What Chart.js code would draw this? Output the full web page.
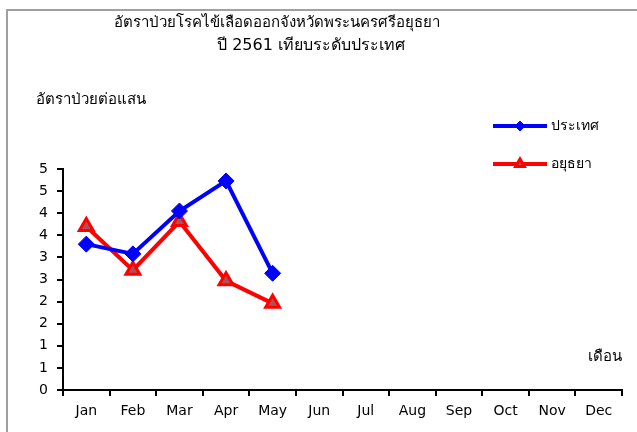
<!DOCTYPE html>
<html>
<head>
<meta charset="utf-8">
<script src="https://cdn.jsdelivr.net/npm/chart.js@4/dist/chart.umd.min.js"></script>
<style>
  html, body { margin: 0; padding: 0; background: #fff; }
  #wrap { width: 637px; height: 432px; }
</style>
</head>
<body>
<div id="wrap"><canvas id="chart1" width="637" height="432"></canvas></div>
<script>
// data
const months = ['Jan','Feb','Mar','Apr','May','Jun','Jul','Aug','Sep','Oct','Nov','Dec'];
const countryRate = [3.30, 3.08, 4.05, 4.73, 2.64, null, null, null, null, null, null, null];
const ayutthayaRate = [3.70, 2.71, 3.81, 2.47, 1.96, null, null, null, null, null, null, null];
const yTickLabels = ['0','1','1','2','2','3','3','4','4','5','5'];

const titleLines = ['อัตราป่วยโรคไข้เลือดออกจังหวัดพระนครศรีอยุธยา', 'ปี 2561 เทียบระดับประเทศ'];
const yTitle = 'อัตราป่วยต่อแสน';
const xTitle = 'เดือน';

const FONT = "Tahoma, 'DejaVu Sans', 'Noto Sans', sans-serif";

// frame, titles and legend drawn by hand, excel style
const decorations = {
  id: 'decorations',
  beforeDraw(chart) {
    const c = chart.ctx;
    c.save();
    c.fillStyle = '#fff';
    c.fillRect(0, 0, chart.width, chart.height);
    c.strokeStyle = '#a0a0a0';
    c.lineWidth = 2;
    c.beginPath();
    c.moveTo(7, chart.height);
    c.lineTo(7, 10);
    c.lineTo(chart.width, 10);
    c.stroke();
    c.restore();
  },
  afterDraw(chart) {
    const c = chart.ctx;
    c.save();
    c.fillStyle = '#000';
    c.textBaseline = 'middle';
    c.font = '15px ' + FONT;
    c.textAlign = 'center';
    c.fillText(titleLines[0], 277, 23);
    c.font = '16px ' + FONT;
    c.fillText(titleLines[1], 311, 46);

    c.font = '15px ' + FONT;
    c.textAlign = 'left';
    c.fillText(yTitle, 36, 100);
    c.textAlign = 'right';
    c.fillText(xTitle, 622, 357);

    // legend
    const rows = [126, 164];
    chart.data.datasets.forEach((ds, i) => {
      const y = rows[i];
      c.strokeStyle = ds.borderColor;
      c.lineWidth = 4;
      c.beginPath();
      c.moveTo(493, y);
      c.lineTo(547, y);
      c.stroke();
      c.fillStyle = ds.pointBackgroundColor;
      c.strokeStyle = ds.pointBorderColor;
      c.lineWidth = ds.pointBorderWidth;
      Chart.helpers.drawPoint(c, {
        pointStyle: ds.pointStyle,
        radius: 5,
        borderWidth: ds.pointBorderWidth,
        rotation: 0
      }, 520, y);
      c.fillStyle = '#000';
      c.textAlign = 'left';
      c.font = '14px ' + FONT;
      c.fillText(ds.label, 551, y);
    });
    c.restore();
  }
};

const ctx = document.getElementById('chart1').getContext('2d');
const myChart = new Chart(ctx, {
  type: 'line',
  data: {
    labels: months,
    datasets: [{
      label: 'ประเทศ',
      data: countryRate,
      borderColor: '#0000ff',
      backgroundColor: '#0000ff',
      borderWidth: 4,
      pointStyle: 'rectRot',
      pointRadius: 8,
      pointBackgroundColor: '#0000ff',
      pointBorderColor: '#0000ff',
      pointBorderWidth: 1,
      tension: 0
    }, {
      label: 'อยุธยา',
      data: ayutthayaRate,
      borderColor: '#ff0000',
      backgroundColor: '#b05050',
      borderWidth: 4,
      pointStyle: 'triangle',
      pointRadius: 8,
      pointBackgroundColor: '#b05050',
      pointBorderColor: '#ff0000',
      pointBorderWidth: 3,
      tension: 0
    }]
  },
  options: {
    responsive: false,
    animation: false,
    layout: { padding: { left: 0, top: 169, right: 15, bottom: 0 } },
    plugins: {
      legend: { display: false },
      title: { display: false },
      tooltip: { enabled: false }
    },
    scales: {
      x: {
        offset: true,
        grid: { offset: true, drawOnChartArea: false, drawTicks: true, tickLength: 6, color: '#000', lineWidth: 2 },
        border: { color: '#000', width: 2 },
        ticks: { color: '#000', font: { family: FONT, size: 14 }, padding: 7, maxRotation: 0, autoSkip: false },
        afterFit(scale) { scale.height = 42; }
      },
      y: {
        min: 0,
        max: 5,
        grid: { drawOnChartArea: false, drawTicks: true, tickLength: 6, color: '#000', lineWidth: 2 },
        border: { color: '#000', width: 2 },
        ticks: {
          stepSize: 0.5,
          color: '#000',
          font: { family: FONT, size: 14 },
          padding: 9,
          callback: (v, i) => yTickLabels[i]
        },
        afterFit(scale) { scale.width = 63; }
      }
    }
  },
  plugins: [decorations]
});
</script>
</body>
</html>
